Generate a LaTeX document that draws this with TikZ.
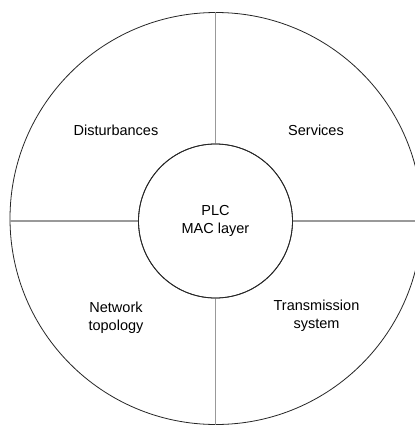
\documentclass[tikz,border=0pt]{standalone}
\usepackage{fontspec}
\setmainfont{Liberation Sans}
\begin{document}
\begin{tikzpicture}[x=1pt,y=-1pt,
  ring/.style={circle,draw=black!85,line width=0.8pt,inner sep=0pt},
  spoke/.style={draw=black!40,line width=1.4pt},
  lbl/.style={align=center,font=\fontsize{14.5}{18}\selectfont,inner sep=0pt}]
\clip (0,0) rectangle (415,426);
\fill[white] (0,0) rectangle (415,426);
\node[ring,minimum size=412pt] (outer) at (216,218.5) {};
\node[ring,minimum size=154pt,fill=white,lbl] (inner) at (215.5,221) {PLC\\MAC layer};
\draw[spoke] (inner.north) -- (inner.north |- outer.north);
\draw[spoke] (inner.south) -- (inner.south |- outer.south);
\draw[spoke] (inner.west) -- (outer.west |- inner.west);
\draw[spoke] (inner.east) -- (outer.east |- inner.east);
\node[ring,minimum size=154pt] (innerline) at (215.5,221) {};
\node[lbl] (dist) at (116,130) {Disturbances};
\node[lbl] (serv) at (316,130) {Services};
\node[lbl] (net) at (116,318) {Network\\topology};
\node[lbl] (trans) at (316.5,316) {Transmission\\system};
\end{tikzpicture}
\end{document}
